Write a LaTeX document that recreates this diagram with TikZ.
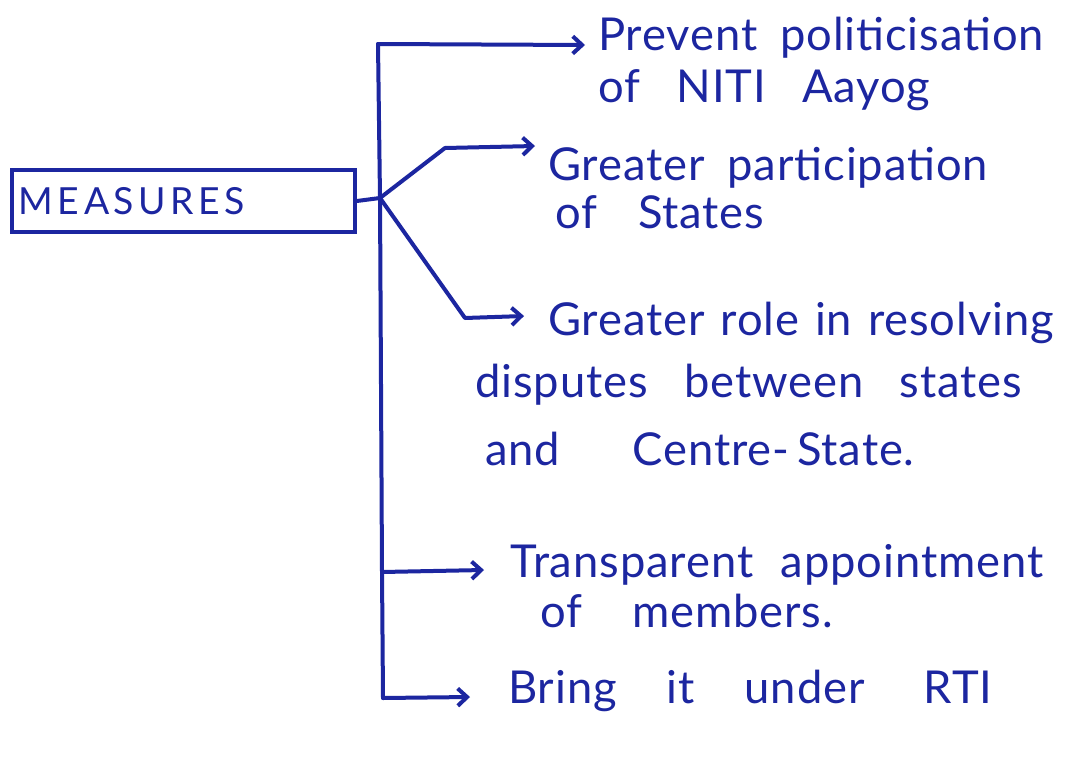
\documentclass[tikz,border=0pt]{standalone}
\usepackage{fontspec}
\setmainfont{Lato}
\usetikzlibrary{arrows.meta}
\definecolor{ink}{RGB}{28,38,160}
\newcommand{\gap}[1]{\hspace{#1em}}
\tikzset{
  inkline/.style={draw=ink, line width=3pt, line cap=round, line join=round},
  arr/.style={inkline, -{Straight Barb[length=7pt,width=13pt,line width=3pt]}},
  txt/.style={text=ink, anchor=base west, inner sep=0pt,
    font=\fontsize{34}{40}\selectfont\addfontfeature{LetterSpace=2}},
  boxed/.style={draw=ink, line width=3pt, text=ink, minimum width=257pt, minimum height=46pt,
    inner sep=0pt, font=\fontsize{28}{32}\selectfont, text width=247pt, align=left}
}
\begin{document}
\begin{tikzpicture}[x=0.75pt,y=-0.75pt]
  \useasboundingbox[fill=white] (0,0) rectangle (1074,760);

  % main box
  \node[boxed] (m) at (183.5,201) {\addfontfeature{LetterSpace=12}MEASURES};

  % trunk of the tree
  \coordinate (j) at (380,198);
  \coordinate (t) at (378,44);
  \coordinate (b) at (383,698);
  \coordinate (k4) at (382,572);
  \draw[inkline] (m.east) -- (j);
  \draw[inkline] (t) -- (j) -- (k4) -- (b);

  % item texts
  \node[txt] (p1) at (598,50) {Prevent\gap{0.5}politicisation};
  \node[txt] (p1b) at (598,102) {of\gap{0.8}NITI\gap{0.8}Aayog};
  \node[txt] (p2) at (548,180) {Greater\gap{0.5}participation};
  \node[txt] (p2b) at (555,228) {of\gap{0.9}States};
  \node[txt] (p3) at (548,335) {Greater\gap{0.35}role\gap{0.35}in\gap{0.35}resolving};
  \node[txt] (p3b) at (475,397) {disputes\gap{0.8}between\gap{0.8}states};
  \node[txt] (p3c) at (485,465) {and\gap{1.6}Centre-\,State.};
  \node[txt] (p4) at (510,577) {Transparent\gap{0.6}appointment};
  \node[txt] (p4b) at (540,627) {of\gap{1.1}members.};
  \node[txt] (p5) at (508,703) {Bring\gap{1.1}it\gap{1.1}under\gap{1.3}RTI};

  % branches
  \coordinate (e2) at (445,148);
  \coordinate (e3) at (465,318);
  \draw[arr] (t) -- (585,45);
  \draw[arr] (j) -- (e2) -- (535,146);
  \draw[arr] (j) -- (e3) -- (524,316);
  \draw[arr] (k4) -- (484,570);
  \draw[arr] (b) -- (470,697);
\end{tikzpicture}
\end{document}
